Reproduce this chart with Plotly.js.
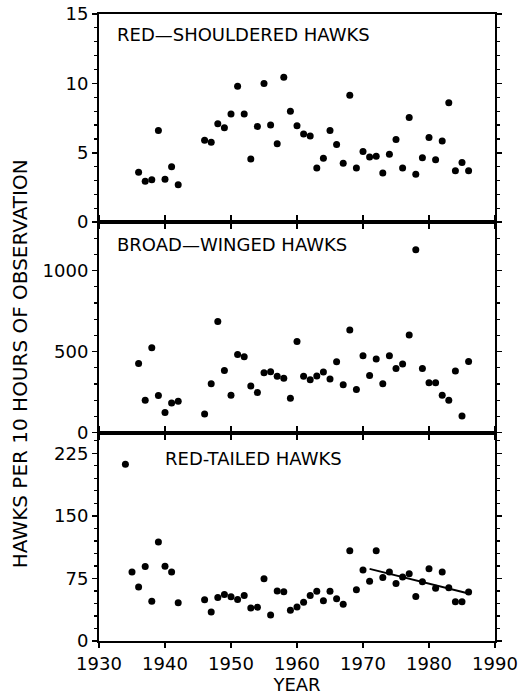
<!DOCTYPE html>
<html>
<head>
<meta charset="utf-8">
<script src="https://cdn.plot.ly/plotly-3.0.1.min.js"></script>
<style>
  html, body { margin: 0; padding: 0; background: #fff; }
  #chart { width: 530px; height: 695px; }
</style>
</head>
<body>
<div id="chart"></div>
<script>
// ---- Data ----
const yearsShoulder = [1936,1937,1938,1939,1940,1941,1942,
  1946,1947,1948,1949,1950,1951,1952,1953,1954,1955,1956,1957,1958,1959,
  1960,1961,1962,1963,1964,1965,1966,1967,1968,1969,1970,1971,1972,1973,
  1974,1975,1976,1977,1978,1979,1980,1981,1982,1983,1984,1985,1986];
const redShoulderedValues = [3.6,2.95,3.05,6.6,3.1,4.0,2.7,
  5.9,5.75,7.1,6.8,7.8,9.8,7.8,4.55,6.9,10.0,7.0,5.65,10.45,8.0,
  6.95,6.35,6.2,3.9,4.6,6.6,5.6,4.25,9.15,3.9,5.1,4.7,4.75,3.55,
  4.9,5.95,3.9,7.55,3.45,4.65,6.1,4.5,5.85,8.6,3.7,4.3,3.7];

const yearsBroad = yearsShoulder.slice();
const broadWingedValues = [426,200,524,229,123,183,193,
  114,301,686,383,231,482,468,287,247,370,376,347,335,212,
  563,347,326,349,374,331,437,295,634,266,474,353,455,301,
  474,395,424,603,1129,395,308,308,231,200,380,102,439];

const yearsTailed = [1934,1935,1936,1937,1938,1939,1940,1941,1942,
  1946,1947,1948,1949,1950,1951,1952,1953,1954,1955,1956,1957,1958,1959,
  1960,1961,1962,1963,1964,1965,1966,1967,1968,1969,1970,1971,1972,1973,
  1974,1975,1976,1977,1978,1979,1980,1981,1982,1983,1984,1985,1986];
const redTailedValues = [212,82.7,64.9,89.2,47.8,118.8,89.6,82.7,45.8,
  49.5,34.9,52.3,55.9,53.1,49.9,54.7,39.7,40.5,74.6,31.2,60.0,59.2,36.9,
  40.9,46.6,54.7,59.6,48.2,59.6,50.7,44.2,108.2,61.6,85.1,71.7,108.2,76.2,
  82.7,68.9,76.6,80.7,53.5,70.9,86.7,63.2,82.7,64.0,47.0,47.0,58.8];

const trendYears = [1971, 1986];
const trendValues = [86.5, 57];

const xTickYears = [1930,1940,1950,1960,1970,1980,1990];
const panelLabels = ['RED\u2014SHOULDERED HAWKS', 'BROAD\u2014WINGED HAWKS', 'RED-TAILED HAWKS'];
const yTitle = 'HAWKS PER 10 HOURS OF OBSERVATION';
const xTitle = 'YEAR';

// ---- Styling ----
const FONT = 'DejaVu Sans, Arial, sans-serif';
const marker = {color: '#000', size: 7, line: {width: 0}};

const traces = [
  {x: yearsShoulder, y: redShoulderedValues, type: 'scatter', mode: 'markers',
   marker: marker, xaxis: 'x', yaxis: 'y', hoverinfo: 'x+y'},
  {x: yearsBroad, y: broadWingedValues, type: 'scatter', mode: 'markers',
   marker: marker, xaxis: 'x2', yaxis: 'y2', hoverinfo: 'x+y'},
  {x: yearsTailed, y: redTailedValues, type: 'scatter', mode: 'markers',
   marker: marker, xaxis: 'x3', yaxis: 'y3', hoverinfo: 'x+y'},
  {x: trendYears, y: trendValues, type: 'scatter', mode: 'lines',
   line: {color: '#000', width: 2}, xaxis: 'x3', yaxis: 'y3', hoverinfo: 'skip'}
];

function xAxis(anchor, showLabels, mirror) {
  return {
    anchor: anchor, domain: [0, 1], range: [1930, 1990],
    tickmode: 'array', tickvals: xTickYears, ticktext: xTickYears.map(String),
    showticklabels: showLabels, ticks: 'outside', ticklen: 5, tickwidth: 1.5, tickcolor: '#000',
    showline: true, linecolor: '#000', linewidth: 2, mirror: mirror,
    showgrid: false, zeroline: false,
    tickfont: {family: FONT, size: 18, color: '#000'}
  };
}
function yAxis(anchor, domain, range, dtick, minorDtick) {
  return {
    anchor: anchor, domain: domain, range: range, tick0: 0, dtick: dtick,
    ticks: 'outside', ticklen: 5, tickwidth: 1.5, tickcolor: '#000',
    minor: {dtick: minorDtick, tick0: 0, ticks: 'outside', ticklen: 3, tickwidth: 1.2, tickcolor: '#000', showgrid: false},
    showline: true, linecolor: '#000', linewidth: 2, mirror: 'ticks',
    showgrid: false, zeroline: false,
    tickfont: {family: FONT, size: 18, color: '#000'}
  };
}

const layout = {
  width: 530, height: 695,
  margin: {l: 99, r: 35, t: 14, b: 54, pad: 0},
  paper_bgcolor: '#fff', plot_bgcolor: '#fff',
  showlegend: false,
  font: {family: FONT, size: 18, color: '#000'},
  xaxis: xAxis('y', false, true),
  xaxis2: xAxis('y2', false, 'ticks'),
  xaxis3: Object.assign(xAxis('y3', true, 'ticks'), {
    title: {text: xTitle, font: {family: FONT, size: 18, color: '#000'}, standoff: 6}
  }),
  yaxis: yAxis('x', [0.668, 1], [0, 15], 5, 1),
  yaxis2: yAxis('x2', [0.3325, 0.668], [0, 1300], 500, 100),
  yaxis3: yAxis('x3', [0, 0.3325], [0, 250], 75, 15),
  annotations: [
    {text: panelLabels[0], xref: 'paper', yref: 'y domain', x: 0.04, y: 0.90,
     xanchor: 'left', yanchor: 'middle', showarrow: false, font: {family: FONT, size: 18, color: '#000'}},
    {text: panelLabels[1], xref: 'paper', yref: 'y2 domain', x: 0.04, y: 0.892,
     xanchor: 'left', yanchor: 'middle', showarrow: false, font: {family: FONT, size: 18, color: '#000'}},
    {text: panelLabels[2], xref: 'paper', yref: 'y3 domain', x: 0.162, y: 0.873,
     xanchor: 'left', yanchor: 'middle', showarrow: false, font: {family: FONT, size: 18, color: '#000'}},
    {text: yTitle, xref: 'paper', yref: 'paper', x: -0.1995, y: 0.443,
     xanchor: 'center', yanchor: 'middle', textangle: -90, showarrow: false,
     font: {family: FONT, size: 20, color: '#000'}}
  ]
};

Plotly.newPlot('chart', traces, layout, {staticPlot: true, displayModeBar: false});
</script>
</body>
</html>
